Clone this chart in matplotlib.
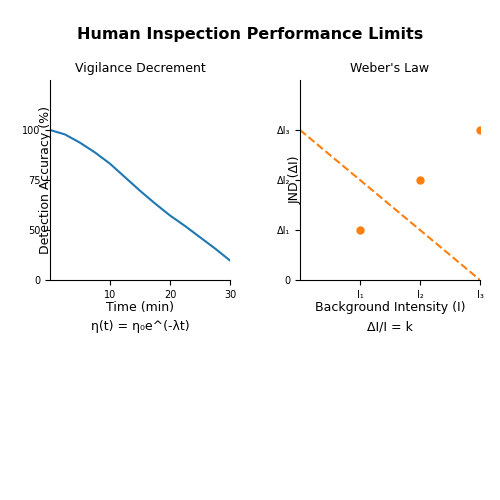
import matplotlib
matplotlib.use("Agg")
import matplotlib.pyplot as plt

t = [0, 2.5, 5, 7.5, 10, 12.5, 15, 17.5, 20, 22.5, 25, 27.5, 30]
acc = [100, 97, 91.5, 85, 77.5, 68.5, 59.5, 51, 43, 36, 28.5, 21, 13]
left_yticks = [0, 33.3, 66.7, 100]
left_ylabels = ["0", "50", "75", "100"]

bg = [1, 2, 3]
jnd = [1, 2, 3]
line_x = [0, 3]
line_y = [3, 0]

fig = plt.figure(figsize=(5, 5), dpi=100)
fig.suptitle("Human Inspection Performance Limits", fontsize=11.5, fontweight="bold", y=0.945)

ax1 = fig.add_axes([0.10, 0.44, 0.36, 0.40])
ax1.plot(t, acc, color="#1f77b4", lw=1.5)
ax1.set_xlim(0, 30)
ax1.set_ylim(0, 133.3)
ax1.set_xticks([10, 20, 30])
ax1.set_yticks(left_yticks)
ax1.set_yticklabels(left_ylabels)
ax1.set_title("Vigilance Decrement", fontsize=9)
ax1.set_xlabel("Time (min)", fontsize=9, labelpad=1)
ax1.set_ylabel("Detection Accuracy (%)", fontsize=9, labelpad=-22)
ax1.text(0.5, -0.25, "η(t) = η₀e^(-λt)", transform=ax1.transAxes, ha="center", fontsize=9)

ax2 = fig.add_axes([0.60, 0.44, 0.36, 0.40])
ax2.plot(line_x, line_y, color="#ff7f0e", ls="--", lw=1.5)
ax2.scatter(bg, jnd, color="#ff7f0e", s=25, zorder=3)
ax2.set_xlim(0, 3)
ax2.set_ylim(0, 4)
ax2.set_xticks([1, 2, 3])
ax2.set_xticklabels(["I₁", "I₂", "I₃"])
ax2.set_yticks([0, 1, 2, 3])
ax2.set_yticklabels(["0", "ΔI₁", "ΔI₂", "ΔI₃"])
ax2.set_title("Weber's Law", fontsize=9)
ax2.set_xlabel("Background Intensity (I)", fontsize=9, labelpad=1)
ax2.set_ylabel("JND (ΔI)", fontsize=9, labelpad=-18)
ax2.text(0.5, -0.25, "ΔI/I = k", transform=ax2.transAxes, ha="center", fontsize=9)

for ax in (ax1, ax2):
    ax.spines["top"].set_visible(False)
    ax.spines["right"].set_visible(False)
    ax.tick_params(labelsize=7)

fig.savefig("out.png", dpi=100)
